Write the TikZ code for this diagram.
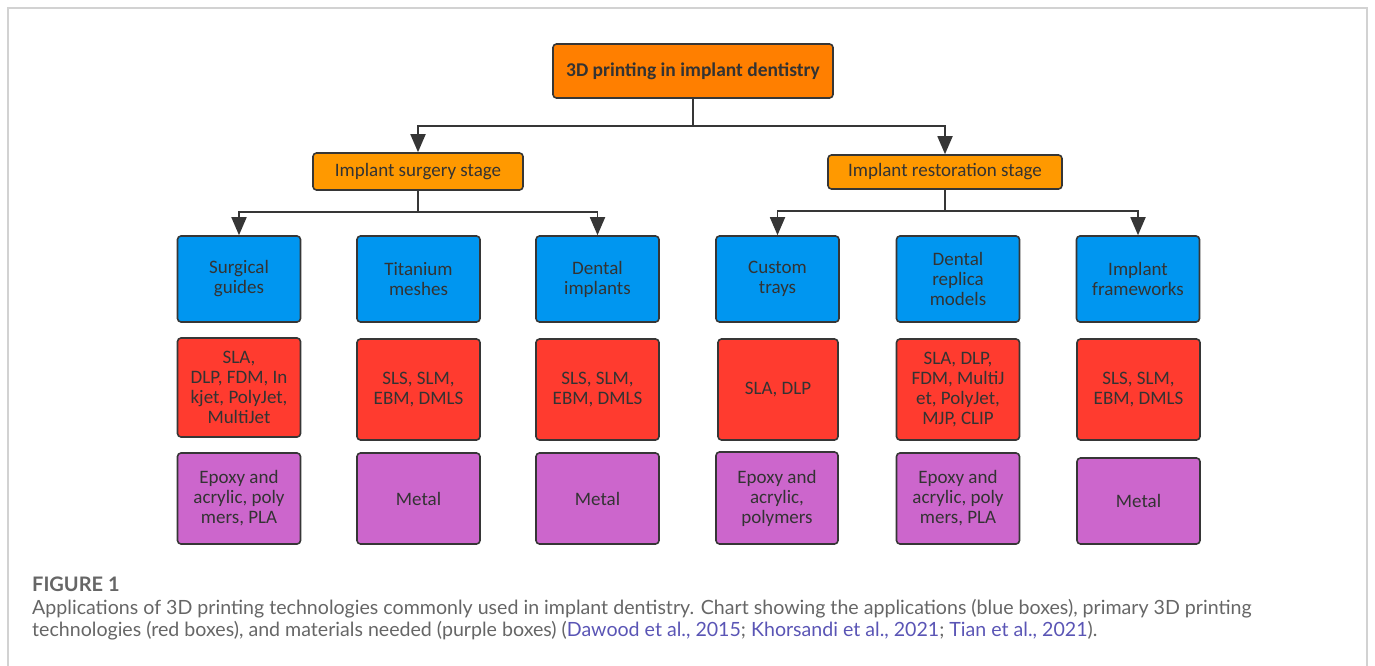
\documentclass[tikz,border=0pt]{standalone}
\usepackage{fontspec}
\setmainfont{Carlito}
\newfontfamily\capfont{Lato}
\usetikzlibrary{arrows.meta}
\definecolor{topor}{HTML}{FF7F00}
\definecolor{stageor}{HTML}{FF9900}
\definecolor{appblue}{HTML}{0096F0}
\definecolor{techred}{HTML}{FF3B2F}
\definecolor{matpurple}{HTML}{CC66CC}
\definecolor{boxline}{HTML}{363636}
\definecolor{txt}{HTML}{333333}
\definecolor{framecol}{HTML}{D2D2D2}
\definecolor{capgray}{HTML}{666666}
\definecolor{linkcol}{HTML}{5A55B5}
\begin{document}
\begin{tikzpicture}[x=1pt,y=-1pt,
  box/.style={draw=boxline, line width=1.6pt, rounded corners=3.5pt, align=center,
    font=\fontsize{19}{20}\selectfont, text=txt, inner sep=0pt},
  topbox/.style={box, fill=topor, minimum width=280pt, minimum height=54pt, font=\fontsize{19.5}{20}\selectfont\bfseries},
  stagebox/.style={box, fill=stageor},
  appbox/.style={box, fill=appblue, minimum width=123pt, minimum height=86pt},
  techbox/.style={box, fill=techred, minimum width=123pt, minimum height=101pt},
  matbox/.style={box, fill=matpurple, minimum width=123pt, minimum height=91pt},
  conn/.style={draw=boxline, line width=1.8pt},
  arr/.style={conn, -{Triangle[length=18pt, width=15pt]}},
  capstyle/.style={anchor=base west, inner sep=0pt, font=\capfont\fontsize{19.6}{22}\selectfont, text=capgray}
]
\useasboundingbox (0,0) rectangle (1375,666);
\draw[framecol, line width=1.5pt] (8,666) -- (8,8) -- (1367,8) -- (1367,666);

\node[topbox] (top) at (693,71) {3D printing in implant dentistry};
\node[stagebox, minimum width=210pt, minimum height=37pt] (sL) at (418,171.5) {Implant surgery stage};
\node[stagebox, minimum width=234pt, minimum height=34pt] (sR) at (945,172) {Implant restoration stage};

% application boxes
\node[appbox] (a1) at (239,279) {Surgical\\guides};
\node[appbox] (a2) at (418.5,279) {Titanium\\meshes};
\node[appbox] (a3) at (597.5,279) {Dental\\implants};
\node[appbox] (a4) at (777.5,279) {Custom\\trays};
\node[appbox] (a5) at (958,279) {Dental\\replica\\models};
\node[appbox] (a6) at (1138,279) {Implant\\frameworks};

% technology boxes
\node[techbox, minimum height=99pt] (t1) at (239,387.5) {SLA,\\DLP, FDM, In\\kjet, PolyJet,\\MultiJet};
\node[techbox] (t2) at (418.5,389.5) {SLS, SLM,\\EBM, DMLS};
\node[techbox] (t3) at (597.5,389.5) {SLS, SLM,\\EBM, DMLS};
\node[techbox, minimum width=120pt] (t4) at (778,389.5) {SLA, DLP};
\node[techbox] (t5) at (958,389.5) {SLA, DLP,\\FDM, MultiJ\\et, PolyJet,\\MJP, CLIP};
\node[techbox] (t6) at (1138.5,389.5) {SLS, SLM,\\EBM, DMLS};

% material boxes
\node[matbox] (m1) at (239,498.5) {Epoxy and\\acrylic, poly\\mers, PLA};
\node[matbox] (m2) at (418.5,498.5) {Metal};
\node[matbox] (m3) at (597.5,498.5) {Metal};
\node[matbox, minimum width=122pt, minimum height=92pt] (m4) at (777,498) {Epoxy and\\acrylic,\\polymers};
\node[matbox] (m5) at (958,498.5) {Epoxy and\\acrylic, poly\\mers, PLA};
\node[matbox, minimum height=86pt] (m6) at (1138.5,501) {Metal};

% connectors
\coordinate (j0) at (693,126);
\draw[arr] (top.south) -- (j0) -| (sL.north);
\draw[arr] (j0) -| (sR.north);

\coordinate (jL) at (418,212);
\draw[arr] (sL.south) -- (jL) -| (a1.north);
\draw[arr] (jL) -| (a3.north);

\coordinate (jR) at (945,211);
\draw[arr] (sR.south) -- (jR) -| (a4.north);
\draw[arr] (jR) -| (a6.north);

% caption
\node[capstyle, font=\capfont\fontsize{20}{22}\selectfont\bfseries] (fig) at (32,591) {FIGURE 1};
\node[capstyle] (cap1) at (32,614) {Applications of 3D printing technologies commonly used in implant dentistry. Chart showing the applications (blue boxes), primary 3D printing};
\node[capstyle] (cap2) at (32,636) {technologies (red boxes), and materials needed (purple boxes) (\textcolor{linkcol}{Dawood et al., 2015}; \textcolor{linkcol}{Khorsandi et al., 2021}; \textcolor{linkcol}{Tian et al., 2021}).};
\end{tikzpicture}
\end{document}
